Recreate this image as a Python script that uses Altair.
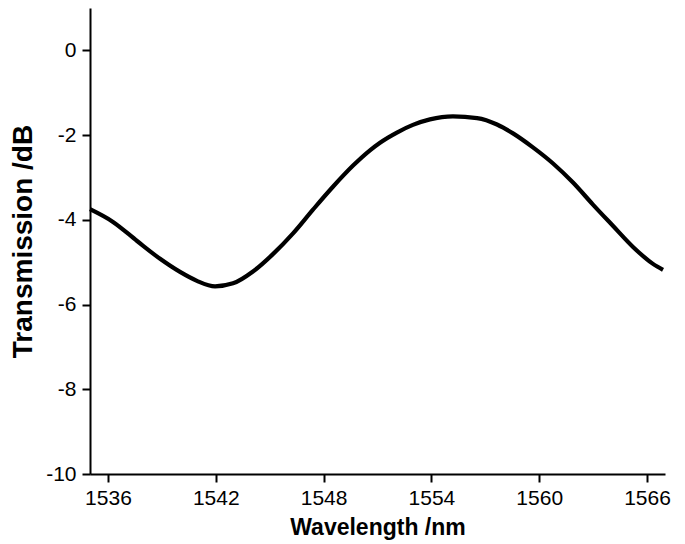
import altair as alt
import pandas as pd

wavelength = [1535.0, 1536.28, 1537.62, 1538.90, 1540.01, 1540.95, 1541.96, 1542.96,
              1544.07, 1545.18, 1546.30, 1547.41, 1548.52, 1549.64, 1550.58, 1551.14,
              1552.08, 1552.97, 1553.92, 1555.20, 1556.54, 1557.65, 1558.54, 1559.65,
              1560.77, 1561.88, 1562.99, 1564.10, 1565.22, 1566.33, 1566.89]
transmission = [-3.75, -4.05, -4.50, -4.92, -5.23, -5.44, -5.57, -5.50,
                -5.22, -4.81, -4.32, -3.76, -3.22, -2.72, -2.36, -2.18,
                -1.94, -1.76, -1.63, -1.56, -1.60, -1.75, -1.96, -2.29,
                -2.67, -3.12, -3.64, -4.14, -4.64, -5.04, -5.18]
x_ticks = [1536, 1542, 1548, 1554, 1560, 1566]
y_ticks = [0, -2, -4, -6, -8, -10]

df = pd.DataFrame({"w": wavelength, "t": transmission})

FONT = "Liberation Sans"

chart = alt.Chart(df).mark_line(color="black", strokeWidth=4.2, interpolate="monotone").encode(
    x=alt.X("w:Q", scale=alt.Scale(domain=[1535, 1567], nice=False, zero=False),
            axis=alt.Axis(values=x_ticks, title="Wavelength /nm", grid=False,
                          tickSize=8, tickWidth=2, domainWidth=2, domainColor="black",
                          tickColor="black", labelFontSize=21, labelColor="black",
                          labelFont=FONT, labelPadding=5, labelExpr="'' + datum.value",
                          titleFont=FONT, titleFontSize=23, titleFontWeight="bold",
                          titleColor="black", titlePadding=8, labelFlush=False)),
    y=alt.Y("t:Q", scale=alt.Scale(domain=[-10, 1], nice=False, zero=False),
            axis=alt.Axis(values=y_ticks, title="Transmission /dB", grid=False,
                          tickSize=8, tickWidth=2, domainWidth=2, domainColor="black",
                          tickColor="black", labelFontSize=21, labelColor="black",
                          labelFont=FONT, labelPadding=6, labelExpr="'' + datum.value",
                          titleFont=FONT, titleFontSize=28, titleFontWeight="bold",
                          titleColor="black", titlePadding=8, labelFlush=False)),
).properties(
    width=575, height=466,
    autosize=alt.AutoSizeParams(type="none"),
    padding={"left": 82, "top": 0, "right": 12, "bottom": 70},
).configure_view(stroke=None)

chart.save("out.html", embed_options={"renderer": "svg", "actions": False})
